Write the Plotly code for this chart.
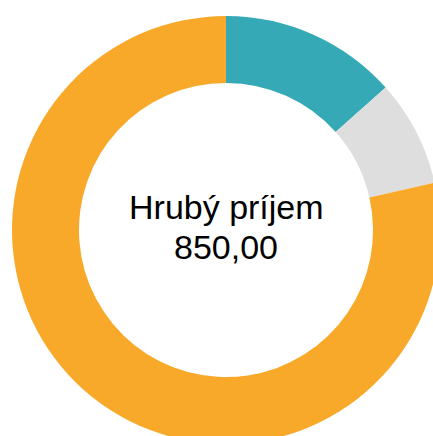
import plotly.graph_objects as go

labels = ["Odvody", "Daň", "Čistý príjem"]
values = [113.90, 68.43, 667.67]
colors = ["#35AAB6", "#DEDEDE", "#F9A92A"]
center_title = "Hrubý príjem"
center_value = "850,00"

fig = go.Figure(go.Pie(
    labels=labels,
    values=values,
    hole=0.687,
    sort=False,
    direction="clockwise",
    rotation=0,
    textinfo="none",
    hoverinfo="none",
    marker=dict(colors=colors, line=dict(width=0)),
    showlegend=False,
))

font = dict(family="Liberation Sans, Arial, sans-serif", size=34, color="#000000")
fig.add_annotation(
    x=0.5, y=0.5537, xref="paper", yref="paper",
    text=center_title, showarrow=False, font=font,
    xanchor="center", yanchor="middle",
)
fig.add_annotation(
    x=0.5, y=0.4603, xref="paper", yref="paper",
    text=center_value, showarrow=False, font=font,
    xanchor="center", yanchor="middle",
)

fig.update_layout(
    width=440, height=444,
    margin=dict(l=12, r=0, t=16, b=0),
    paper_bgcolor="white",
    plot_bgcolor="white",
)

fig.write_html(
    "out.html",
    config={"displayModeBar": False},
    post_script="document.documentElement.style.overflow='hidden';document.body.style.overflow='hidden';document.body.style.margin='0';",
)
